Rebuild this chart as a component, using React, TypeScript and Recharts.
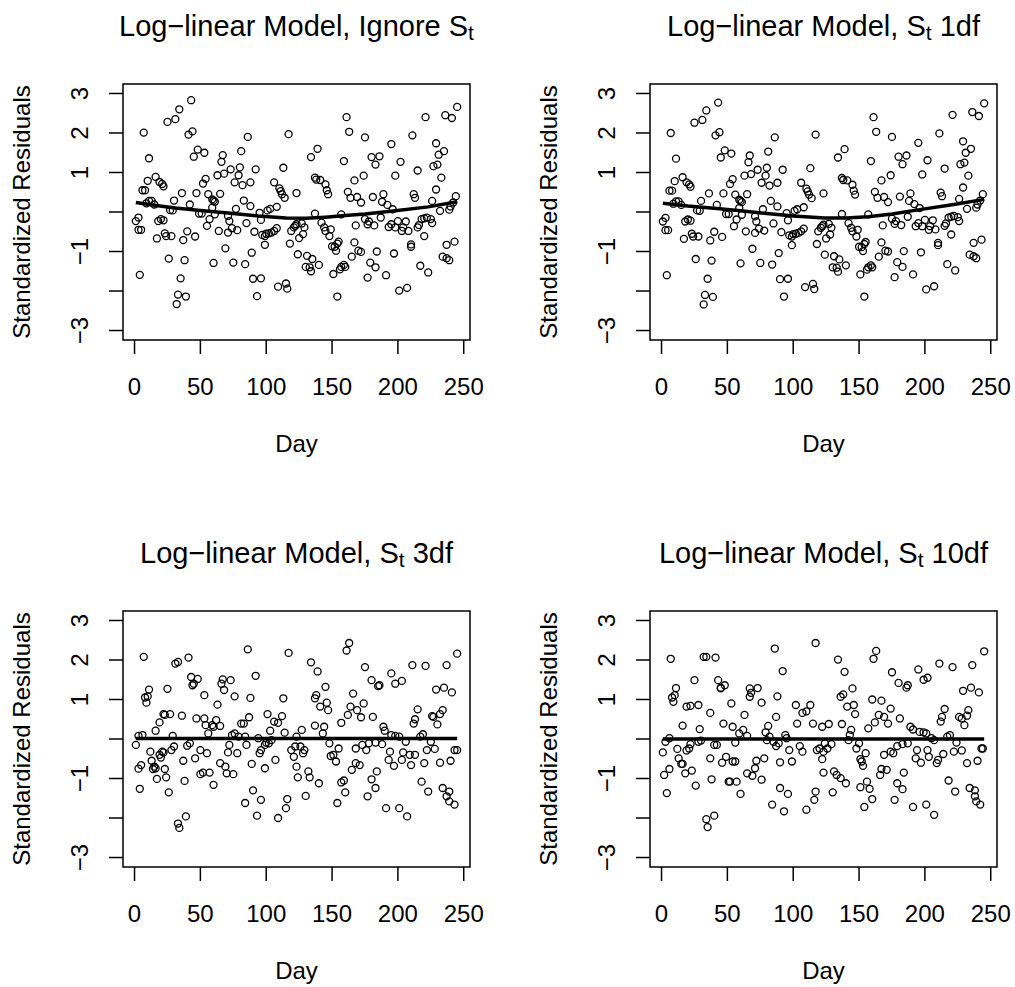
import React from 'react';
import { ScatterChart, Scatter, XAxis, YAxis, ReferenceArea } from 'recharts';

const FONT = '"Liberation Sans", Arial, Helvetica, sans-serif';

const xTicks = [0, 50, 100, 150, 200, 250];
const yTicks = [-3, -2, -1, 0, 1, 2, 3];
const yTickLabels = ['−3', '', '−1', '', '1', '2', '3'];
const xDomain: [number, number] = [-8.76, 254.76];
const yDomain: [number, number] = [-3.24, 3.24];

const xLabel = 'Day';
const yLabel = 'Standardized Residuals';

// [day, standardized residual]
const residIgnore: [number, number][] = [
  [1,-0.23],[3,-0.14],[3,-0.45],[5,-0.45],[4,-1.59],[7,2.01],[6,0.55],[8,0.55],[10,0.79],[11,1.36],[9,0.22],[11,0.28],[13,0.28],[15,0.19],[16,0.89],[17,-0.67],[19,0.76],[21,0.71],[22,0.65],[18,-0.23],[20,-0.18],[22,-0.21],[23,-0.54],[24,-0.61],[28,-0.61],[26,-1.18],[27,0.05],[29,0.04],[30,0.29],[25,2.28],[31,2.35],[34,2.6],[43,2.83],[41,1.96],[44,2.04],[36,0.48],[35,-1.68],[33,-2.09],[39,-2.14],[32,-2.33],[37,-0.71],[40,-0.49],[38,-1.22],[42,0.19],[46,-0.62],[45,1.4],[48,1.58],[53,1.5],[47,0.48],[49,-0.04],[51,-0.04],[52,0.72],[54,0.84],[55,-0.35],[56,0.45],[59,0.32],[60,0.29],[61,0.26],[57,-0.18],[59,0.11],[60,-1.29],[61,-0.06],[63,0.93],[65,0.46],[64,-0.48],[67,1.44],[66,1.27],[68,0.97],[69,-0.92],[71,-0.1],[72,-0.23],[74,-0.41],[71,-0.52],[73,1.08],[76,0.75],[75,-1.28],[77,0.08],[78,-0.46],[79,0.93],[80,1.13],[81,1.54],[82,0.68],[83,0.29],[84,-1.32],[85,-0.28],[86,1.9],[88,0.15],[88,0.75],[89,-1.03],[90,-1.69],[96,-1.68],[91,-0.5],[92,1.08],[93,-2.13],[95,-0.02],[96,-0.2],[97,-0.58],[99,-0.61],[100,-0.55],[102,-0.54],[104,-0.52],[106,-0.48],[108,-0.41],[99,-0.83],[101,0.04],[103,0.08],[106,0.75],[110,0.6],[111,0.53],[112,0.45],[114,0.36],[108,0.13],[109,-1.89],[115,-1.81],[116,-1.94],[113,1.12],[117,1.97],[118,-0.8],[119,-0.48],[121,-0.39],[122,-0.35],[123,-0.31],[124,-1.07],[125,-0.66],
  [123,0.48],[127,-0.29],[129,-0.39],[128,-0.56],[131,-1.11],[135,-1.19],[130,-1.39],[133,-1.4],[134,-1.5],[140,-1.34],[134,1.39],[139,1.6],[137,0.87],[138,0.82],[141,0.81],[145,0.7],[146,0.55],[147,0.45],[137,-0.04],[142,-0.27],[144,-0.39],[145,-0.48],[149,-0.44],[148,-0.61],[150,-0.87],[152,-0.88],[154,-0.8],[155,-0.75],[153,-0.98],[151,-1.57],[156,-1.45],[159,-1.34],[160,-1.39],[157,-1.39],[154,-2.14],[157,-0.06],[159,1.29],[161,2.4],[163,2.03],[162,0.51],[164,0.36],[169,0.38],[172,0.24],[167,0.8],[168,-0.34],[167,-0.77],[165,-1.13],[170,-0.98],[172,-1.01],[174,0.92],[175,1.89],[175,-0.18],[177,-0.31],[178,-0.24],[182,-0.34],[180,1.39],[183,1.2],[186,1.41],[181,0.38],[179,-1.28],[183,-1.4],[177,-1.66],[184,-1.0],[188,0.26],[189,0.45],[192,0.18],[196,0.07],[187,-0.14],[191,-1.6],[193,-0.38],[195,-0.31],[198,-0.39],[200,-0.23],[203,-0.48],[204,-0.39],[206,-0.24],[195,1.72],[197,-1.05],[198,0.92],[202,1.27],[201,-1.99],[207,-1.92],[208,-0.48],[210,-0.82],[210,-0.88],[211,1.94],[212,0.45],[213,0.36],[215,-0.39],[216,-0.33],[218,-0.18],[220,-0.16],[222,-0.14],[225,-0.18],[226,-0.28],[215,1.05],[217,-1.36],[223,-1.53],[220,-0.61],[221,2.4],[226,0.28],[227,1.16],[230,1.2],[229,0.57],[229,1.74],[231,1.45],[233,0.87],[235,1.54],[232,0.03],[239,0.06],[234,-1.13],[237,-1.17],[239,-1.22],[236,2.45],[241,2.38],[237,-0.83],[243,-0.75],[240,0.14],[242,0.24],[244,0.4],[245,2.66],
];

const resid1df: [number, number][] = [
  [1,-0.24],[3,-0.15],[3,-0.46],[5,-0.46],[4,-1.6],[7,2.0],[6,0.54],[8,0.54],[10,0.78],[11,1.35],[9,0.21],[11,0.27],[13,0.27],[15,0.18],[16,0.88],[17,-0.68],[19,0.75],[21,0.7],[22,0.64],[18,-0.24],[20,-0.19],[22,-0.22],[23,-0.55],[24,-0.62],[28,-0.62],[26,-1.19],[27,0.04],[29,0.03],[30,0.28],[25,2.26],[31,2.33],[34,2.57],[43,2.77],[41,1.94],[44,2.02],[36,0.47],[35,-1.69],[33,-2.1],[39,-2.15],[32,-2.34],[37,-0.72],[40,-0.5],[38,-1.23],[42,0.18],[46,-0.63],[45,1.38],[48,1.56],[53,1.48],[47,0.47],[49,-0.05],[51,-0.05],[52,0.71],[54,0.83],[55,-0.36],[56,0.44],[59,0.31],[60,0.28],[61,0.25],[57,-0.19],[59,0.1],[60,-1.3],[61,-0.07],[63,0.92],[65,0.45],[64,-0.49],[67,1.43],[66,1.26],[68,0.96],[69,-0.93],[71,-0.11],[72,-0.24],[74,-0.42],[71,-0.53],[73,1.07],[76,0.74],[75,-1.29],[77,0.07],[78,-0.47],[79,0.92],[80,1.12],[81,1.53],[82,0.67],[83,0.28],[84,-1.33],[85,-0.29],[86,1.89],[88,0.14],[88,0.74],[89,-1.04],[90,-1.7],[96,-1.69],[91,-0.51],[92,1.07],[93,-2.14],[95,-0.03],[96,-0.21],[97,-0.59],[99,-0.62],[100,-0.56],[102,-0.55],[104,-0.53],[106,-0.49],[108,-0.42],[99,-0.84],[101,0.03],[103,0.07],[106,0.74],[110,0.59],[111,0.52],[112,0.44],[114,0.35],[108,0.12],[109,-1.9],[115,-1.82],[116,-1.95],[113,1.11],[117,1.96],[118,-0.81],[119,-0.49],[121,-0.4],[122,-0.36],[123,-0.32],[124,-1.08],[125,-0.67],
  [123,0.47],[127,-0.3],[129,-0.4],[128,-0.57],[131,-1.12],[135,-1.2],[130,-1.4],[133,-1.41],[134,-1.51],[140,-1.35],[134,1.38],[139,1.59],[137,0.86],[138,0.81],[141,0.8],[145,0.69],[146,0.54],[147,0.44],[137,-0.05],[142,-0.28],[144,-0.4],[145,-0.49],[149,-0.45],[148,-0.62],[150,-0.88],[152,-0.89],[154,-0.81],[155,-0.76],[153,-0.99],[151,-1.58],[156,-1.46],[159,-1.35],[160,-1.4],[157,-1.4],[154,-2.14],[157,-0.06],[159,1.29],[161,2.4],[163,2.03],[162,0.51],[164,0.36],[169,0.38],[172,0.25],[167,0.8],[168,-0.34],[167,-0.77],[165,-1.13],[170,-0.98],[172,-1.0],[174,0.93],[175,1.9],[175,-0.17],[177,-0.3],[178,-0.23],[182,-0.33],[180,1.4],[183,1.21],[186,1.43],[181,0.39],[179,-1.27],[183,-1.39],[177,-1.65],[184,-0.99],[188,0.28],[189,0.47],[192,0.2],[196,0.1],[187,-0.12],[191,-1.58],[193,-0.36],[195,-0.28],[198,-0.36],[200,-0.2],[203,-0.45],[204,-0.36],[206,-0.21],[195,1.75],[197,-1.02],[198,0.95],[202,1.31],[201,-1.96],[207,-1.88],[208,-0.44],[210,-0.78],[210,-0.84],[211,1.99],[212,0.49],[213,0.4],[215,-0.35],[216,-0.29],[218,-0.14],[220,-0.12],[222,-0.1],[225,-0.13],[226,-0.23],[215,1.1],[217,-1.32],[223,-1.48],[220,-0.57],[221,2.46],[226,0.33],[227,1.21],[230,1.25],[229,0.62],[229,1.79],[231,1.5],[233,0.92],[235,1.6],[232,0.08],[239,0.11],[234,-1.08],[237,-1.12],[239,-1.17],[236,2.53],[241,2.43],[237,-0.78],[243,-0.7],[240,0.19],[242,0.29],[244,0.45],[245,2.75],
];

const resid3df: [number, number][] = [
  [1,-0.15],[3,0.08],[6,0.1],[3,-0.75],[5,-0.66],[4,-1.26],[7,2.08],[8,1.05],[10,1.08],[9,0.92],[11,1.25],[12,-0.32],[13,-0.55],[15,-0.7],[14,-0.76],[16,-0.74],[16,0.21],[17,-1.01],[19,-0.4],[20,-0.47],[22,-0.34],[21,-0.32],[19,0.42],[22,0.63],[23,0.61],[27,0.63],[23,-0.76],[24,-0.97],[25,1.27],[26,-1.35],[28,-0.28],[30,-0.19],[29,0.08],[31,1.91],[33,1.95],[41,2.06],[36,0.59],[37,-0.55],[38,-1.06],[33,-2.14],[39,-1.96],[34,-2.25],[40,-0.17],[42,-0.11],[43,1.57],[45,1.4],[48,1.52],[44,1.36],[46,-0.49],[47,0.52],[50,-0.28],[50,-0.89],[52,-0.85],[53,0.52],[55,-0.36],[54,0.35],[53,1.11],[56,0.14],[57,-0.85],[59,0.35],[60,0.31],[62,0.48],[65,0.33],[60,-1.16],[63,0.87],[65,-0.61],[69,-0.7],[70,-0.87],[75,-0.89],[67,1.51],[68,1.24],[66,1.4],[72,-0.15],[71,-0.34],[78,-0.36],[73,1.49],[74,0.1],[76,0.14],[79,0.06],[81,0.39],[83,0.39],[84,0.06],[76,1.08],[84,-1.62],[90,-1.3],[93,-1.94],[96,-1.54],[86,2.27],[87,0.55],[88,1.04],[85,-0.15],[89,-0.63],[92,1.6],[94,0.02],[95,-0.36],[96,-0.28],[99,-0.15],[100,-0.09],[102,-0.11],[104,-0.03],[99,-0.74],[101,0.63],[103,0.21],[106,0.44],[107,-0.53],[109,0.41],[112,0.58],[113,1.03],[114,0.16],[109,-2.0],[115,-1.75],[116,-1.52],[117,2.18],[119,-0.28],[121,-0.45],[122,-0.19],[123,-0.7],[124,-0.97],
  [123,0.06],[126,-0.19],[129,-0.28],[128,-0.36],[132,-0.82],[133,-0.97],[140,-1.12],[127,0.23],[130,-1.44],[134,1.94],[139,1.71],[137,1.03],[138,1.11],[141,0.82],[145,1.32],[146,0.92],[147,0.73],[137,0.34],[144,0.31],[143,0.14],[148,-0.11],[149,-0.43],[151,-0.4],[153,-0.57],[155,-0.24],[157,-1.1],[159,-1.05],[154,-1.62],[160,-1.35],[157,0.41],[162,0.61],[164,0.82],[166,1.15],[169,0.73],[172,0.55],[174,0.9],[181,0.56],[161,2.24],[163,2.43],[168,-0.24],[176,-0.28],[173,-0.15],[178,-0.11],[183,-0.09],[188,-0.13],[165,-0.78],[168,-0.61],[171,-0.66],[175,1.82],[177,-1.45],[183,-1.24],[180,-1.02],[184,-0.82],[180,1.49],[185,1.34],[186,1.36],[189,0.31],[190,0.21],[195,0.1],[198,0.08],[201,0.06],[206,-0.07],[194,-0.32],[193,-0.53],[197,-0.68],[203,-0.53],[204,-0.34],[209,-0.4],[210,-0.66],[213,-0.4],[195,1.66],[198,1.4],[203,1.47],[191,-1.75],[201,-1.75],[207,-1.96],[211,1.87],[221,1.85],[212,0.39],[213,0.5],[215,0.75],[217,0.06],[219,0.12],[222,-0.28],[225,-0.07],[228,-0.25],[220,-0.61],[218,-1.08],[223,-1.33],[232,-0.6],[240,-0.55],[226,0.58],[227,0.56],[230,0.37],[232,0.63],[234,0.73],[229,1.25],[235,1.3],[241,1.18],[237,1.87],[234,-1.24],[239,-1.33],[237,-1.45],[239,-1.58],[243,-1.66],[243,-0.28],[245,-0.28],[245,2.16],
];

const resid10df: [number, number][] = [
  [1,-0.34],[3,-0.07],[6,0.02],[2,-0.91],[6,-0.76],[4,-1.37],[7,2.03],[8,1.05],[10,1.11],[9,0.94],[11,1.29],[12,-0.25],[13,-0.49],[15,-0.63],[16,-0.63],[18,-0.87],[16,0.34],[19,-0.29],[21,-0.24],[22,-0.13],[19,0.82],[22,0.84],[28,0.86],[23,-0.8],[25,1.49],[26,-1.18],[28,-0.07],[30,-0.04],[29,0.25],[37,0.66],[32,2.08],[34,2.08],[41,2.06],[37,-0.49],[38,-1.02],[34,-2.03],[40,-1.94],[35,-2.23],[40,-0.15],[42,-0.15],[43,1.49],[45,1.3],[48,1.36],[45,1.28],[47,0.39],[46,-0.6],[49,-0.45],[51,-1.08],[52,-1.08],[54,-0.57],[56,-0.57],[57,-1.08],[53,0.9],[54,0.31],[56,-0.09],[59,0.14],[62,0.23],[65,0.08],[60,-1.39],[63,0.61],[65,-0.87],[69,-0.93],[71,-0.74],[76,-1.03],[72,-0.55],[78,-0.49],[67,1.28],[68,1.17],[73,1.29],[67,1.07],[76,0.92],[79,0.17],[81,0.33],[82,0.06],[85,-0.07],[87,-0.18],[80,-0.03],[86,2.29],[88,1.08],[87,0.56],[92,1.72],[84,-1.66],[90,-1.24],[93,-1.83],[96,-1.39],[90,-0.59],[89,-0.11],[95,0.02],[97,-0.28],[99,-0.57],[94,0.1],[102,0.86],[103,0.39],[107,0.66],[110,0.7],[113,0.86],[115,0.39],[105,-0.18],[107,-0.32],[110,-1.79],[116,-1.54],[117,-1.33],[117,2.43],[118,-0.28],[120,-0.24],[122,0.31],[122,-0.51],[123,-0.85],[123,-0.32],
  [127,0.38],[124,-0.11],[126,-0.24],[129,-0.13],[131,-0.82],[133,-0.91],[136,-0.99],[140,-1.12],[130,-1.35],[134,2.01],[139,1.7],[136,1.07],[138,1.13],[141,0.82],[145,1.28],[146,0.86],[147,0.63],[137,0.38],[144,0.23],[143,0.1],[142,-0.03],[150,-0.11],[148,-0.24],[151,-0.51],[152,-0.57],[153,-0.68],[155,-0.36],[156,-1.08],[158,-1.26],[151,-1.22],[154,-1.72],[160,-1.52],[157,0.27],[160,1.0],[162,0.42],[165,0.61],[167,0.97],[169,0.56],[172,0.39],[174,0.77],[181,0.52],[163,2.23],[161,2.03],[169,-0.4],[174,-0.32],[176,-0.36],[179,-0.18],[183,-0.13],[187,-0.11],[166,-0.91],[167,-0.76],[171,-0.78],[175,1.69],[177,-1.54],[184,-0.85],[179,-1.12],[183,-1.27],[180,1.42],[186,1.3],[187,1.36],[189,0.31],[191,0.24],[194,-0.28],[196,0.18],[199,0.17],[201,0.14],[205,0.02],[207,-0.03],[193,-0.49],[197,-0.6],[202,-0.28],[203,-0.45],[209,-0.61],[210,-0.53],[214,-0.38],[195,1.76],[199,1.5],[202,1.55],[191,-1.72],[201,-1.66],[207,-1.92],[211,1.91],[221,1.82],[212,0.44],[213,0.56],[215,0.76],[217,0.06],[219,0.1],[222,-0.32],[224,-0.09],[228,-0.29],[218,-1.05],[223,-1.33],[232,-0.61],[240,-0.55],[226,0.56],[228,0.52],[230,0.35],[232,0.59],[233,0.73],[229,1.22],[235,1.3],[241,1.18],[236,1.87],[234,-1.24],[238,-1.3],[238,-1.45],[239,-1.58],[242,-1.66],[243,-0.24],[244,-0.24],[245,2.22],
];

// smooth fitted curves [day, value]
const fitIgnore: [number, number][] = [
  [1,0.24],[15,0.17],[31,0.1],[50,0.04],[69,-0.02],[94,-0.1],[115,-0.15],[130,-0.16],[145,-0.13],[160,-0.09],[175,-0.05],[198,0.03],[223,0.13],[245,0.26],
];
const fit1df: [number, number][] = [
  [1,0.22],[20,0.15],[42,0.09],[60,0.03],[80,-0.04],[100,-0.1],[124,-0.15],[140,-0.15],[157,-0.12],[175,-0.05],[196,0.06],[222,0.19],[245,0.32],
];
const fit3df: [number, number][] = [[1,0.01],[245,0.01]];
const fit10df: [number, number][] = [[1,0.0],[245,0.0]];

const panelTitles = [
  { pre: 'Log−linear Model, Ignore S', sub: 't', post: '' },
  { pre: 'Log−linear Model, S', sub: 't', post: ' 1df' },
  { pre: 'Log−linear Model, S', sub: 't', post: ' 3df' },
  { pre: 'Log−linear Model, S', sub: 't', post: ' 10df' },
];
const panelResid = [residIgnore, resid1df, resid3df, resid10df];
const panelFit = [fitIgnore, fit1df, fit3df, fit10df];

const PW = 527;
const PH = 527;
const M = { top: 84, right: 57, bottom: 127, left: 63 };
const XH = 60;
const YW = 60;
const boxL = M.left + YW;
const boxR = PW - M.right;
const boxT = M.top;
const boxB = PH - M.bottom - XH;

const XTick = (props: any) => {
  const { x, y, payload } = props;
  return (
    <text x={x} y={y} dy={39} textAnchor="middle" fontSize={24} fontFamily={FONT} fill="#000">
      {payload.value}
    </text>
  );
};

const YTick = (props: any) => {
  const { x, y, payload } = props;
  const i = yTicks.indexOf(payload.value);
  const label = i >= 0 ? yTickLabels[i] : '';
  if (!label) return <g />;
  return (
    <text
      transform={`translate(${x - 19},${y}) rotate(-90)`}
      textAnchor="middle"
      fontSize={24}
      fontFamily={FONT}
      fill="#000"
    >
      {label}
    </text>
  );
};

const Ring = (props: any) => {
  const { cx, cy } = props;
  if (cx == null || cy == null) return <g />;
  return <circle cx={cx} cy={cy} r={3.5} fill="none" stroke="#000" strokeWidth={1.3} />;
};

const NoShape = () => <g />;

function Panel({ idx, left, top }: { idx: number; left: number; top: number }) {
  const pts = panelResid[idx].map(([d, r]) => ({ day: d, r }));
  const fit = panelFit[idx].map(([d, r]) => ({ day: d, r }));
  const t = panelTitles[idx];
  const cx = (boxL + boxR) / 2;
  const cy = (boxT + boxB) / 2;
  return (
    <div style={{ position: 'absolute', left, top, width: PW, height: PH }}>
      <ScatterChart width={PW} height={PH} margin={M}>
        <XAxis
          type="number"
          dataKey="day"
          domain={xDomain}
          ticks={xTicks}
          interval={0}
          allowDataOverflow
          height={XH}
          axisLine={false}
          tickLine={{ stroke: '#000', strokeWidth: 1.5 }}
          tickSize={14}
          tick={XTick}
        />
        <YAxis
          type="number"
          dataKey="r"
          domain={yDomain}
          ticks={yTicks}
          interval={0}
          allowDataOverflow
          width={YW}
          axisLine={false}
          tickLine={{ stroke: '#000', strokeWidth: 1.5 }}
          tickSize={14}
          tick={YTick}
        />
        <ReferenceArea
          x1={xDomain[0]}
          x2={xDomain[1]}
          y1={yDomain[0]}
          y2={yDomain[1]}
          fill="none"
          fillOpacity={0}
          stroke="#000"
          strokeWidth={1.5}
          ifOverflow="visible"
        />
        <Scatter data={pts} shape={Ring} isAnimationActive={false} />
        <Scatter
          data={fit}
          shape={NoShape}
          line={{ stroke: '#000', strokeWidth: 3.5 }}
          lineType="joint"
          isAnimationActive={false}
        />
      </ScatterChart>
      <svg
        width={PW}
        height={PH}
        style={{ position: 'absolute', left: 0, top: 0, pointerEvents: 'none' }}
      >
        <text x={cx} y={36} textAnchor="middle" fontSize={29} fontFamily={FONT} fill="#000">
          {t.pre}
          <tspan fontSize={21} dy={4}>{t.sub}</tspan>
          {t.post ? <tspan dy={-4} fontSize={29}>{t.post}</tspan> : null}
        </text>
        <text x={cx} y={452} textAnchor="middle" fontSize={24} fontFamily={FONT} fill="#000">
          {xLabel}
        </text>
        <text
          transform={`translate(30,${cy}) rotate(-90)`}
          textAnchor="middle"
          fontSize={24}
          fontFamily={FONT}
          fill="#000"
        >
          {yLabel}
        </text>
      </svg>
    </div>
  );
}

export default function App() {
  return (
    <div style={{ position: 'absolute', left: 0, top: 0, width: 1015, height: 987, overflow: 'hidden', background: '#fff' }}>
      <Panel idx={0} left={0} top={0} />
      <Panel idx={1} left={527} top={0} />
      <Panel idx={2} left={0} top={527} />
      <Panel idx={3} left={527} top={527} />
    </div>
  );
}
